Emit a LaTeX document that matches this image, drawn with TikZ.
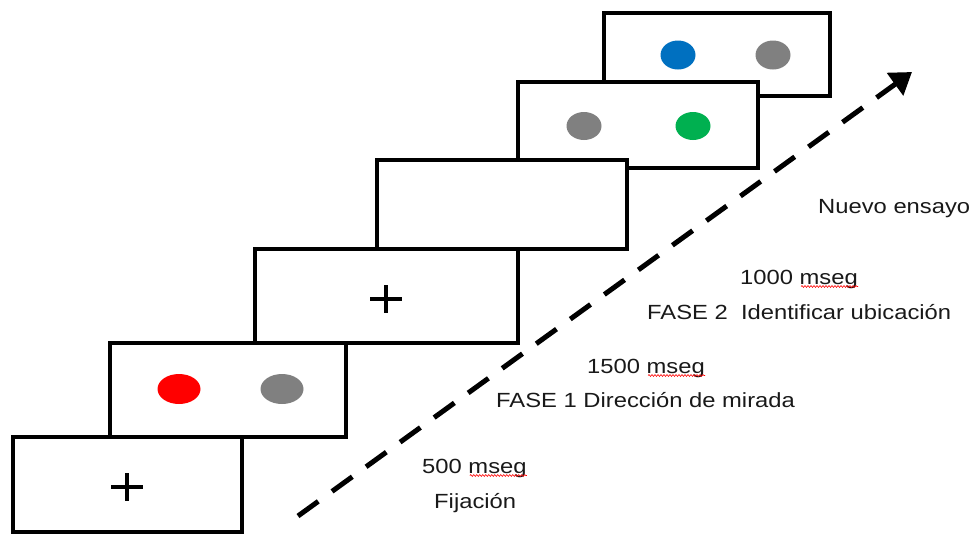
\documentclass[tikz,border=0pt]{standalone}
\usepackage{fontspec}
\setmainfont{Liberation Sans}
\newfontfamily\lblfont[FakeStretch=1.16]{Liberation Sans}
\usetikzlibrary{arrows.meta,decorations.pathmorphing,calc}
\definecolor{dotred}{HTML}{FF0000}
\definecolor{dotgray}{HTML}{808080}
\definecolor{dotblue}{HTML}{0070C0}
\definecolor{dotgreen}{HTML}{00B050}
\tikzset{
  frame/.style={draw=black, fill=white, line width=4.2pt},
  crossmark/.style={draw=black, line width=3.4pt},
  lbl/.style={font=\lblfont\fontsize{20.5}{24}\selectfont, anchor=base west, inner sep=0pt, text=black!90},
  spellwave/.style={draw=red, line width=0.6pt, decorate, decoration={snake, amplitude=0.9pt, segment length=3pt}},
  timearrow/.style={draw=black, line width=5pt, dash pattern=on 25pt off 17pt, -{Triangle[length=21pt,width=27pt]}}
}
\begin{document}
\begin{tikzpicture}[x=1pt,y=-1pt]
\useasboundingbox (0,0) rectangle (974,536);
% frame 6 (top)
\draw[frame] (604,13) rectangle (830,96);
\fill[dotblue] (678,55) ellipse [x radius=17.5pt, y radius=14.5pt];
\fill[dotgray] (773,55) ellipse [x radius=17.5pt, y radius=14.5pt];
% frame 5
\draw[frame] (518,82) rectangle (758,168);
\fill[dotgray] (584,126) ellipse [x radius=17.5pt, y radius=14pt];
\fill[dotgreen] (693,126) ellipse [x radius=17.5pt, y radius=14pt];
% frame 4
\draw[frame] (377,160) rectangle (627,249);
% frame 3
\draw[frame] (255,249) rectangle (518,343);
\draw[crossmark] (370,299) -- (402,299) (386,285) -- (386,313);
% frame 2
\draw[frame] (110,343) rectangle (346,437);
\fill[dotred] (179,389) ellipse [x radius=21.5pt, y radius=15pt];
\fill[dotgray] (282,389) ellipse [x radius=21.5pt, y radius=15pt];
% frame 1
\draw[frame] (13,437) rectangle (242,532);
\draw[crossmark] (111,487) -- (143,487) (127,473) -- (127,501);
% time arrow
\coordinate (as) at (298,516);
\coordinate (ae) at (912,72);
\draw[timearrow] (as) -- (ae);
% labels
\node[lbl] (t500) at (422,473) {500 mseg};
\node[lbl] (tfij) at (434,508) {Fijación};
\node[lbl] (t1500) at (587,373) {1500 mseg};
\node[lbl] (tf1) at (496,407) {FASE 1 Dirección de mirada};
\node[lbl] (t1000) at (740,284) {1000 mseg};
\node[lbl] (tf2) at (647,319) {FASE 2\ \ Identificar ubicación};
\node[lbl] (tnew) at (818,213) {Nuevo ensayo};
% spell-check marks
\foreach \n in {t500,t1500,t1000}{
  \draw[spellwave] ($(\n.base east)+(-57,2.5)$) -- ($(\n.base east)+(0,2.5)$);
}
\end{tikzpicture}
\end{document}
